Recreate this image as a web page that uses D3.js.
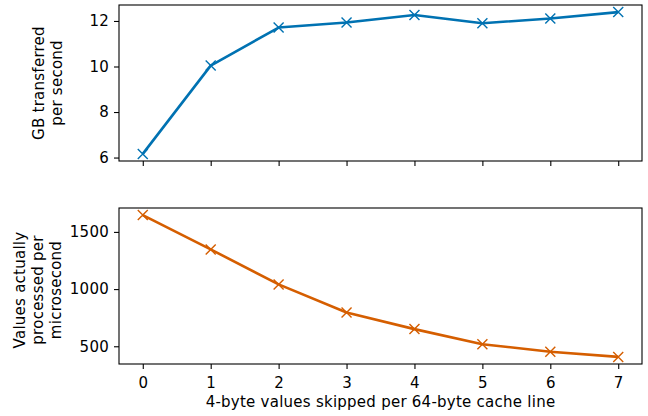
<!DOCTYPE html>
<head>
	<script src="https://d3js.org/d3.v7.min.js"></script>
	<style>
		body { margin: 0; background: #fff; }
		text { font-family: "DejaVu Sans"; font-size: 15px; fill: #000; letter-spacing: 0.25px; }
		.axis path, .axis line { stroke: #000; stroke-width: 1.1px; }
	</style>
</head>
<body>
	<script>
		var skipped = [0, 1, 2, 3, 4, 5, 6, 7];
		var gbPerSec = [6.16, 10.04, 11.71, 11.93, 12.26, 11.90, 12.11, 12.39];
		var valuesPerUs = [1647, 1347, 1041, 795, 650, 518, 452, 407];
		var xTicks = [0, 1, 2, 3, 4, 5, 6, 7];
		var topTicks = [6, 8, 10, 12];
		var bottomTicks = [500, 1000, 1500];

		var width = 648, height = 416;
		var left = 119, right = 642;
		var fontSize = "15px";
		var panels = [
			{ top: 5, bottom: 161, values: gbPerSec, ticks: topTicks, color: "#0072B2",
			  label: ["GB transferred", "per second"], labelX: 47.5, labelY: 83, showX: false },
			{ top: 208, bottom: 364, values: valuesPerUs, ticks: bottomTicks, color: "#D55E00",
			  label: ["Values actually", "processed per", "microsecond"], labelX: 38, labelY: 290, showX: true }
		];

		// matplotlib style 5% padding
		function padded(ext) {
			var m = (ext[1] - ext[0]) * 0.05;
			return [ext[0] - m, ext[1] + m];
		}

		var svg = d3.select("body").append("svg")
			.attr("width", width)
			.attr("height", height);

		var xScale = d3.scaleLinear()
			.domain(padded(d3.extent(skipped)))
			.range([left, right]);

		panels.forEach(function(p) {
			var yScale = d3.scaleLinear()
				.domain(padded(d3.extent(p.values)))
				.range([p.bottom, p.top]);
			var pts = skipped.map((x, i) => [x, p.values[i]]);

			var g = svg.append("g");

			var line = d3.line()
				.x(d => xScale(d[0]))
				.y(d => yScale(d[1]));
			g.append("path")
				.attr("d", line(pts))
				.attr("fill", "none")
				.attr("stroke", p.color)
				.attr("stroke-width", 2.6)
				.attr("stroke-linejoin", "round");

			// x markers
			var s = 5;
			g.selectAll(".mk")
				.data(pts)
				.enter()
				.append("path")
				.attr("d", d => {
					var cx = xScale(d[0]), cy = yScale(d[1]);
					return "M" + (cx - s) + "," + (cy - s) + "L" + (cx + s) + "," + (cy + s) +
						"M" + (cx - s) + "," + (cy + s) + "L" + (cx + s) + "," + (cy - s);
				})
				.attr("stroke", p.color)
				.attr("stroke-width", 1.4)
				.attr("fill", "none");

			// frame
			g.append("rect")
				.attr("x", left)
				.attr("y", p.top)
				.attr("width", right - left)
				.attr("height", p.bottom - p.top)
				.attr("fill", "none")
				.attr("stroke", "#000")
				.attr("stroke-width", 1.1);

			var yAxis = d3.axisLeft(yScale)
				.tickValues(p.ticks)
				.tickSize(5)
				.tickPadding(5)
				.tickFormat(d3.format("d"));
			g.append("g")
				.attr("class", "axis")
				.attr("transform", "translate(" + left + ",0)")
				.call(yAxis)
				.call(a => a.select(".domain").remove())
				.selectAll("text").style("font-family", "DejaVu Sans").style("font-size", fontSize);

			var xAxis = d3.axisBottom(xScale)
				.tickValues(xTicks)
				.tickSize(5)
				.tickPadding(8)
				.tickFormat(p.showX ? d3.format("d") : "");
			g.append("g")
				.attr("class", "axis")
				.attr("transform", "translate(0," + p.bottom + ")")
				.call(xAxis)
				.call(a => a.select(".domain").remove())
				.selectAll("text").style("font-family", "DejaVu Sans").style("font-size", fontSize);

			// y label, lines centred around labelX
			var n = p.label.length, lh = 18.2;
			var lab = g.append("text")
				.attr("transform", "translate(" + p.labelX + "," + p.labelY + ") rotate(-90)")
				.attr("text-anchor", "middle");
			p.label.forEach(function(t, i) {
				lab.append("tspan")
					.attr("x", 0)
					.attr("y", (i - (n - 1) / 2) * lh)
					.attr("dy", "0.35em")
					.text(t);
			});
		});

		svg.append("text")
			.attr("x", (left + right) / 2)
			.attr("y", 406.5)
			.attr("text-anchor", "middle")
			.text("4-byte values skipped per 64-byte cache line");
	</script>
</body>
</html>
